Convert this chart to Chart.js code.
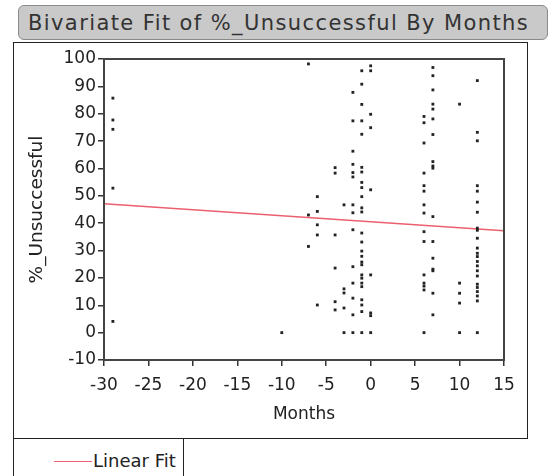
<!DOCTYPE html>
<html>
<head>
<meta charset="utf-8">
<script src="https://cdn.jsdelivr.net/npm/chart.js@4.4.1/dist/chart.umd.min.js"></script>
<style>
  html, body { margin: 0; padding: 0; background: #fff; }
  #wrap { position: relative; width: 558px; height: 476px; overflow: hidden; font-family: "DejaVu Sans", sans-serif; }
  #title {
    position: absolute; left: 18px; top: 5px; width: 530px; height: 35px;
    background: #c9c9c9; border: 1px solid #8a8a8a; border-radius: 6px;
    box-sizing: border-box; color: #333; font-size: 21px; line-height: 35px; padding-left: 9px;
    letter-spacing: 1.4px; white-space: nowrap;
  }
  #frame { position: absolute; left: 13px; top: 42px; width: 515px; height: 397px; border: 1px solid #222; box-sizing: border-box; }
  #legendBox { position: absolute; left: 13px; top: 438px; width: 171px; height: 60px; border: 1px solid #222; box-sizing: border-box; }
  #legendLine { position: absolute; left: 40px; top: 22px; width: 38px; height: 0; border-top: 1.5px solid #ec5f6e; }
  #legendText { position: absolute; left: 79px; top: 11px; font-size: 18px; color: #222; }
  canvas { position: absolute; left: 0; top: 0; }
</style>
</head>
<body>
<div id="wrap">
  <div id="title">Bivariate Fit of %_Unsuccessful By Months</div>
  <div id="frame"></div>
  <div id="legendBox"><div id="legendLine"></div><div id="legendText">Linear Fit</div></div>
  <canvas id="fit" width="558" height="476"></canvas>
</div>
<script>
// Months (x) and % unsuccessful (y), grouped by month column
const monthValues = [-29, -10, -7, -6, -4, -3, -2, -1, 0, 6, 7, 10, 12];
const unsuccessfulByMonth = [
  [85.7, 77.7, 74.3, 52.8, 4.1],
  [0],
  [98.2, 43.0, 31.5],
  [49.7, 44.3, 39.4, 35.7, 10.1],
  [60.3, 58.3, 35.7, 23.6, 11.3, 8.3],
  [46.7, 16.0, 14.5, 9.0, 0],
  [87.8, 77.4, 66.3, 61.5, 58.5, 56.9, 46.7, 43.8, 37.6, 24.1, 18.1, 12.6, 6.5, 0],
  [95.7, 90.8, 83.4, 77.4, 72.5, 60.4, 58.7, 54.9, 53.0, 49.7, 45.6, 44.1, 36.4, 33.1,
   29.8, 27.9, 25.8, 24.8, 21.1, 19.9, 18.1, 16.8, 12.0, 10.1, 7.7, 0],
  [97.5, 95.7, 79.8, 74.9, 52.2, 21.1, 7.2, 6.2, 0],
  [79.0, 76.7, 69.3, 58.3, 53.7, 51.7, 46.7, 43.7, 36.9, 33.3, 21.1, 18.1, 17.0, 15.6, 0],
  [96.9, 93.9, 88.7, 83.5, 81.7, 78.1, 72.4, 62.5, 60.9, 60.1, 42.4, 33.3, 27.2, 23.2, 22.6, 14.4, 6.5],
  [83.5, 18.1, 14.4, 10.8, 0],
  [92.1, 73.2, 70.1, 53.7, 51.7, 47.7, 44.0, 38.2, 37.4, 34.5, 30.9, 29.0, 27.8, 26.0,
   24.4, 22.6, 20.7, 17.7, 16.5, 15.0, 13.4, 11.6, 0]
];

// linear fit line, read at the ends of the x axis
const fitMonths = [-30, 15];
const fitUnsuccessful = [47.1, 37.2];

const xTicks = { min: -30, max: 15, step: 5 };
const yTicks = { min: -10, max: 100, step: 10 };

const points = [];
monthValues.forEach((m, i) => {
  unsuccessfulByMonth[i].forEach(v => points.push({ x: m, y: v }));
});
const fitPoints = fitMonths.map((m, i) => ({ x: m, y: fitUnsuccessful[i] }));

const axisFont = { family: 'DejaVu Sans', size: 17 };

// full box around the plot area
const plotFrame = {
  id: 'plotFrame',
  afterDraw(chart) {
    const { ctx, chartArea: a } = chart;
    ctx.save();
    ctx.strokeStyle = '#444';
    ctx.lineWidth = 2;
    ctx.strokeRect(a.left, a.top, a.right - a.left, a.bottom - a.top);
    ctx.restore();
  }
};

new Chart(document.getElementById('fit'), {
  type: 'scatter',
  data: {
    datasets: [
      {
        type: 'line',
        label: 'Linear Fit',
        data: fitPoints,
        borderColor: '#ec5f6e',
        borderWidth: 1.5,
        pointRadius: 0,
        fill: false,
        order: 2
      },
      {
        label: '%_Unsuccessful',
        data: points,
        pointStyle: 'rect',
        pointRadius: 2,
        backgroundColor: '#222',
        borderWidth: 0,
        order: 1
      }
    ]
  },
  options: {
    responsive: false,
    devicePixelRatio: 1,
    animation: false,
    layout: { padding: { left: 22, top: 59, right: 54, bottom: 47 } },
    plugins: { legend: { display: false }, tooltip: { enabled: false } },
    scales: {
      x: {
        type: 'linear',
        min: xTicks.min, max: xTicks.max,
        afterFit: s => { s.height = 69; },
        ticks: { stepSize: xTicks.step, color: '#222', font: axisFont, padding: 9, maxRotation: 0 },
        grid: { drawOnChartArea: false, drawTicks: true, tickLength: 6, color: '#333', lineWidth: 1.5 },
        border: { color: '#444', width: 2 },
        title: { display: true, text: 'Months', color: '#222', font: axisFont, padding: { top: 4, bottom: 4 } }
      },
      y: {
        type: 'linear',
        min: yTicks.min, max: yTicks.max,
        afterFit: s => { s.width = 82; },
        ticks: { stepSize: yTicks.step, color: '#222', font: axisFont, padding: 2 },
        grid: { drawOnChartArea: false, drawTicks: true, tickLength: 6, color: '#333', lineWidth: 1.5 },
        border: { color: '#444', width: 2 },
        title: { display: true, text: '%_Unsuccessful', color: '#222', font: { family: 'DejaVu Sans', size: 18.5 }, padding: { top: 4, bottom: 4 } }
      }
    }
  },
  plugins: [plotFrame]
});
</script>
</body>
</html>
